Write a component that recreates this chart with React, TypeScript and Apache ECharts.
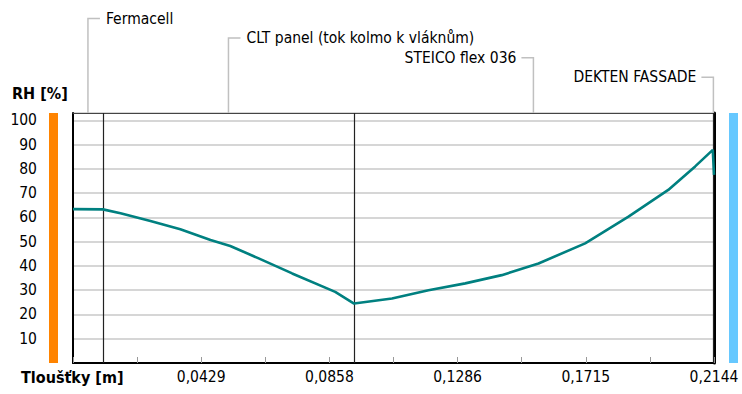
import React, { useEffect, useRef } from "react";
import * as echarts from "echarts";

const layerNames = ["Fermacell", "CLT panel (tok kolmo k vláknům)", "STEICO flex 036", "DEKTEN FASSADE"];
const layerThickness = [0.01, 0.084, 0.12, 0.0004];

const depth = [0, 0.01, 0.0159, 0.0259, 0.0359, 0.046, 0.0526, 0.0621, 0.0733, 0.0877, 0.094, 0.1067, 0.1189, 0.1312, 0.1434, 0.1557, 0.1713, 0.1858, 0.1991, 0.2081, 0.214, 0.2144];
const rh = [63.4, 63.3, 61.7, 58.5, 55.1, 50.7, 48.2, 43.1, 36.9, 29.3, 24.5, 26.6, 30.0, 32.8, 36.2, 41.0, 49.3, 60.3, 71.3, 81.0, 87.8, 77.5];

const yTickLabels = ["10", "20", "30", "40", "50", "60", "70", "80", "90", "100"];
const xTickLabels = ["0,0429", "0,0858", "0,1286", "0,1715", "0,2144"];

const FONT = "'DejaVu Sans Condensed', 'Liberation Sans Narrow', 'DejaVu Sans', sans-serif";

export default function App() {
  const ref = useRef<HTMLDivElement>(null);
  useEffect(() => {
    if (!ref.current) return;
    const chart = echarts.init(ref.current, undefined, { renderer: "svg" });
    const total = layerThickness.reduce((a, b) => a + b, 0);
    const layers: number[][] = [];
    const boundaries: number[] = [];
    let acc = 0;
    layerThickness.forEach((t, i) => {
      layers.push([acc, acc + t, i]);
      acc += t;
      if (i < layerThickness.length - 1) boundaries.push(acc);
    });
    const xInterval = total / 10;
    const gridLeft = 73, gridRight = 28, gridTop = 113, gridBottom = 31;

    chart.setOption({
      animation: false,
      backgroundColor: "#ffffff",
      textStyle: { fontFamily: FONT },
      grid: { left: gridLeft, right: gridRight, top: gridTop, bottom: gridBottom, containLabel: false },
      xAxis: [
        {
          type: "value",
          min: 0,
          max: total,
          interval: xInterval,
          axisLine: { show: true, onZero: false, lineStyle: { color: "#000", width: 2 } },
          axisTick: { show: true, inside: true, length: 6, lineStyle: { color: "#999", width: 1 } },
          splitLine: { show: false },
          axisLabel: {
            color: "#000",
            fontSize: 15.5,
            fontFamily: FONT,
            margin: 6,
            showMaxLabel: true,
            formatter: (v: number, i: number) => (i > 0 && i % 2 === 0 ? xTickLabels[i / 2 - 1] ?? "" : ""),
          },
        },
        {
          type: "value",
          position: "top",
          min: 0,
          max: total,
          axisLine: { show: true, onZero: false, lineStyle: { color: "#444", width: 1 } },
          axisTick: { show: false },
          axisLabel: { show: false },
          splitLine: { show: false },
        },
      ],
      yAxis: [
        {
          type: "value",
          min: 0,
          max: 103,
          interval: 10,
          axisLine: { show: true, onZero: false, lineStyle: { color: "#000", width: 2 } },
          axisTick: { show: false },
          splitLine: { show: true, lineStyle: { color: "#c8c8c8", width: 1.5 } },
          axisLabel: {
            color: "#000",
            fontSize: 15.5,
            fontFamily: FONT,
            margin: 36,
            formatter: (v: number, i: number) => (i >= 1 && i <= yTickLabels.length ? yTickLabels[i - 1] : ""),
          },
        },
        {
          type: "value",
          position: "right",
          min: 0,
          max: 103,
          axisLine: { show: true, onZero: false, lineStyle: { color: "#000", width: 3 } },
          axisTick: { show: false },
          axisLabel: { show: false },
          splitLine: { show: false },
        },
      ],
      graphic: [
        { type: "rect", shape: { x: 49, y: 113, width: 9, height: 250 }, style: { fill: "#ff8400" }, silent: true },
        { type: "rect", shape: { x: 729, y: 113, width: 9, height: 250 }, style: { fill: "#66c8ff" }, silent: true },
        {
          type: "text", left: 12, top: 85,
          style: { text: "RH [%]", fill: "#000", font: `bold 16px ${FONT}` },
        },
        {
          type: "text", left: 21, top: 369,
          style: { text: "Tloušťky [m]", fill: "#000", font: `bold 16px ${FONT}` },
        },
      ],
      series: [
        {
          type: "line",
          xAxisIndex: 0,
          yAxisIndex: 0,
          data: depth.map((d, i) => [d, rh[i]]),
          symbol: "none",
          lineStyle: { color: "#008080", width: 2.6 },
          z: 5,
          markLine: {
            silent: true,
            precision: 6,
            symbol: ["none", "none"],
            label: { show: false },
            lineStyle: { color: "#222", width: 1.2, type: "solid" },
            data: boundaries.map((b) => ({ xAxis: b })),
          },
        },
        {
          type: "custom",
          xAxisIndex: 0,
          yAxisIndex: 0,
          clip: false,
          silent: true,
          data: layers,
          encode: { x: [0, 1] },
          renderItem: (params: any, api: any) => {
            const s = api.value(0), e = api.value(1), idx = api.value(2);
            const mx = api.coord([(s + e) / 2, 0])[0];
            const top = params.coordSys.y;
            const cx = params.coordSys.x + params.coordSys.width / 2;
            const ly = 18.5 + idx * 19.6;
            const right = mx < cx;
            const hx = right ? mx + 12 : mx - 12;
            return {
              type: "group",
              children: [
                {
                  type: "polyline",
                  shape: { points: [[mx, top], [mx, ly], [hx, ly]] },
                  style: { stroke: "#c0c0c0", lineWidth: 1.5, fill: null },
                },
                {
                  type: "text",
                  x: right ? hx + 6 : hx - 5,
                  y: ly,
                  style: {
                    text: layerNames[idx],
                    fill: "#000",
                    font: `15.5px ${FONT}`,
                    textAlign: right ? "left" : "right",
                    textVerticalAlign: "middle",
                  },
                },
              ],
            };
          },
        },
      ],
    });
    return () => chart.dispose();
  }, []);
  return <div ref={ref} style={{ position: "fixed", left: 0, top: 0, width: 742, height: 394 }} />;
}
